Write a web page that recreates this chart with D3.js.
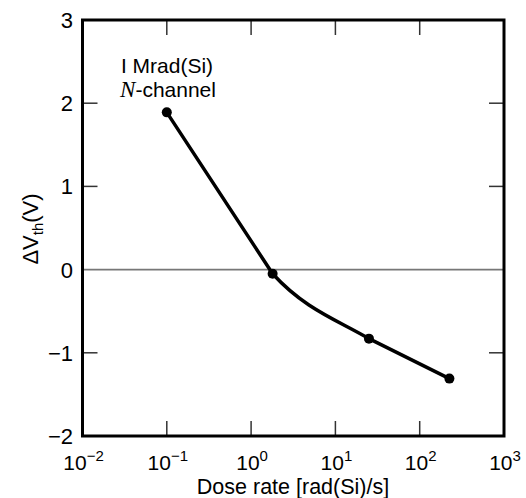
<!DOCTYPE html>
<html><head><meta charset="utf-8">
<script src="https://cdn.jsdelivr.net/npm/d3@7"></script>
<style>body{margin:0;background:#fff}svg{display:block}text{font-family:"Liberation Sans",Arial,Helvetica,sans-serif;fill:#000}</style>
</head><body><svg id="c" width="526" height="498"></svg>
<script>
const doseRate = [0.1, 1.8, 25, 225];
const deltaVth = [1.89, -0.05, -0.83, -1.31];
const xTickExps = [-2, -1, 0, 1, 2, 3];
const yTicks = [-2, -1, 0, 1, 2, 3];
const annot = ["I Mrad(Si)", "-channel"];

const svg = d3.select("#c");
const L = 82.5, R = 504, T = 20, B = 436;
const x = d3.scaleLog().domain([1e-2, 1e3]).range([L, R]);
const y = d3.scaleLinear().domain([-2, 3]).range([B, T]);

// zero line
svg.append("line").attr("x1", L).attr("x2", R).attr("y1", y(0)).attr("y2", y(0))
  .attr("stroke", "#777").attr("stroke-width", 1.6);

// ticks
const tl = 15;
const tg = svg.append("g").attr("stroke", "#333").attr("stroke-width", 1.5);
xTickExps.slice(1, -1).forEach(e => {
  const px = x(Math.pow(10, e));
  tg.append("line").attr("x1", px).attr("x2", px).attr("y1", B).attr("y2", B - tl);
  tg.append("line").attr("x1", px).attr("x2", px).attr("y1", T).attr("y2", T + tl);
});
yTicks.slice(1, -1).forEach(v => {
  if (v === 0) return;
  tg.append("line").attr("x1", L).attr("x2", L + tl).attr("y1", y(v)).attr("y2", y(v));
  tg.append("line").attr("x1", R).attr("x2", R - tl).attr("y1", y(v)).attr("y2", y(v));
});

// frame
svg.append("rect").attr("x", L).attr("y", T).attr("width", R - L).attr("height", B - T)
  .attr("fill", "none").attr("stroke", "#000").attr("stroke-width", 3);

// y tick labels
yTicks.forEach(v => {
  svg.append("text").attr("x", 73).attr("y", y(v)).attr("dy", "0.36em")
    .attr("text-anchor", "end").attr("font-size", 22)
    .text(v < 0 ? "\u2212" + Math.abs(v) : v);
});

// x tick labels
xTickExps.forEach(e => {
  const t = svg.append("text").attr("x", x(Math.pow(10, e)) + 1).attr("y", 470)
    .attr("text-anchor", "middle").attr("font-size", 21);
  t.append("tspan").text("10");
  t.append("tspan").attr("font-size", 15).attr("dy", -9).text(e < 0 ? "\u2212" + Math.abs(e) : e);
});

// axis titles
svg.append("text").attr("x", 293).attr("y", 494).attr("text-anchor", "middle")
  .attr("font-size", 21.5).text("Dose rate [rad(Si)/s]");
const yt = svg.append("text").attr("transform", "translate(38,229) rotate(-90)")
  .attr("text-anchor", "middle").attr("font-size", 22);
yt.append("tspan").text("\u0394V");
yt.append("tspan").attr("font-size", 15).attr("dy", 5).text("th");
yt.append("tspan").attr("dy", -5).text("(V)");

// annotation
svg.append("text").attr("x", 167).attr("y", 73).attr("text-anchor", "middle")
  .attr("font-size", 21).text(annot[0]);
const a2 = svg.append("text").attr("x", 168).attr("y", 97).attr("text-anchor", "middle").attr("font-size", 21);
a2.append("tspan").attr("font-family", "Liberation Serif, Times New Roman, serif").attr("font-style", "italic").attr("font-size", 23).text("N");
a2.append("tspan").text(annot[1]);

// data: straight end segments, smooth Hermite middle segment
const pts = doseRate.map((d, i) => [x(d), y(deltaVth[i])]);
const p = d3.path();
p.moveTo(pts[0][0], pts[0][1]);
p.lineTo(pts[1][0], pts[1][1]);
const sl = (a, b) => (b[1] - a[1]) / (b[0] - a[0]);
const m1 = (sl(pts[0], pts[1]) + sl(pts[1], pts[2])) / 2;
const m2 = (sl(pts[1], pts[2]) + sl(pts[2], pts[3])) / 2;
const dx = (pts[2][0] - pts[1][0]) / 3;
p.bezierCurveTo(pts[1][0] + dx, pts[1][1] + m1 * dx, pts[2][0] - dx, pts[2][1] - m2 * dx, pts[2][0], pts[2][1]);
p.lineTo(pts[3][0], pts[3][1]);
svg.append("path").attr("d", p.toString())
  .attr("fill", "none").attr("stroke", "#000").attr("stroke-width", 3.5).attr("stroke-linejoin", "round");
svg.selectAll("circle.p").data(pts).enter().append("circle")
  .attr("cx", d => d[0]).attr("cy", d => d[1]).attr("r", 5).attr("fill", "#000");
</script></body></html>
